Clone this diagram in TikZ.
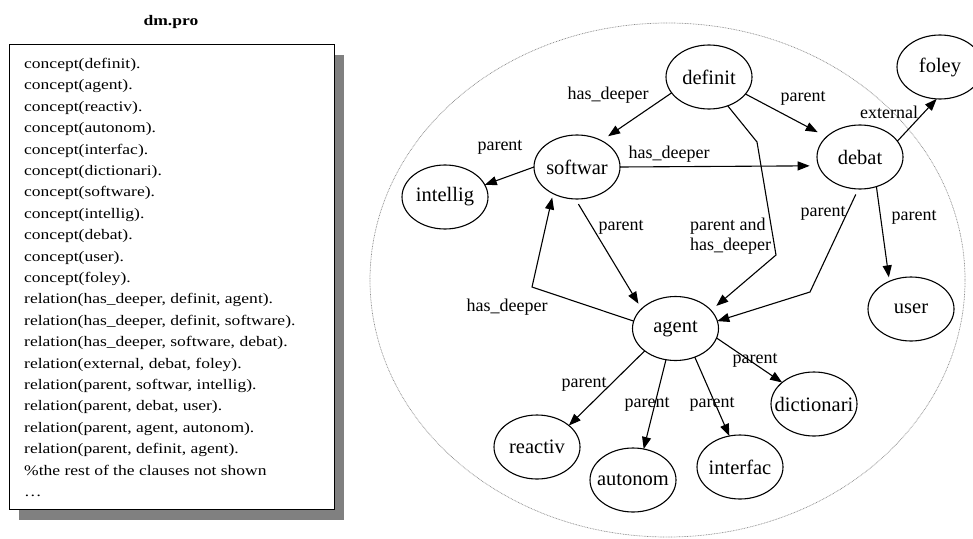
\documentclass[tikz,border=0pt]{standalone}
\usepackage{fontspec}
\setmainfont{Liberation Serif}
\newfontfamily\clausefont[FakeStretch=1.2]{Liberation Serif}
\usetikzlibrary{shapes.geometric,arrows.meta,shadows}

\begin{document}
\begin{tikzpicture}[
x=1pt,y=-1pt,
every node/.style={align=center},
concept/.style={draw,ellipse,line width=1.1pt,minimum width=86pt,minimum height=64pt,inner xsep=-9pt,inner ysep=0pt,outer sep=0pt,font=\fontsize{20.5}{24}\selectfont},
link/.style={-{Triangle[length=12pt,width=9pt]},line width=1.1pt},
rel/.style={inner sep=0pt,anchor=base,font=\fontsize{18}{20}\selectfont},
scopeline/.style={draw=black!45,dash pattern=on 0.8pt off 0.8pt,line width=0.7pt}]

\useasboundingbox (0,0) rectangle (973,538);

% the program file
\node[inner sep=0pt,anchor=base,font=\clausefont\bfseries\fontsize{14.6}{18}\selectfont] (title) at (171,25) {dm.pro};
\node[draw,fill=white,line width=1.1pt,minimum width=325pt,minimum height=465pt,inner sep=0pt,anchor=north west,
  drop shadow={shadow xshift=10pt,shadow yshift=-10pt,fill=black!50,opacity=1}] (file) at (8.5,44) {};
\node[anchor=north west,inner sep=0pt,align=left,font=\clausefont\fontsize{14.6}{21.4}\selectfont] (clauses) at (24,58) {%
concept(definit).\\
concept(agent).\\
concept(reactiv).\\
concept(autonom).\\
concept(interfac).\\
concept(dictionari).\\
concept(software).\\
concept(intellig).\\
concept(debat).\\
concept(user).\\
concept(foley).\\
relation(has\_deeper, definit, agent).\\
relation(has\_deeper, definit, software).\\
relation(has\_deeper, software, debat).\\
relation(external, debat, foley).\\
relation(parent, softwar, intellig).\\
relation(parent, debat, user).\\
relation(parent, agent, autonom).\\
relation(parent, definit, agent).\\
\%the rest of the clauses not shown\\
\ldots};

% the concept graph
\draw[scopeline] (667.5,280) ellipse [x radius=297.5pt,y radius=257pt];

\node[concept] (definit) at (709,77) {definit};
\node[concept] (softwar) at (577,167) {softwar};
\node[concept] (intellig) at (445,197) {intellig};
\node[concept] (debat) at (860,157) {debat};
\node[concept] (foley) at (940,67) {foley};
\node[concept] (user) at (911,309) {user};
\node[concept] (agent) at (675.5,328.5) {agent};
\node[concept] (dictionari) at (814,404) {dictionari};
\node[concept] (interfac) at (740,467) {interfac};
\node[concept] (autonom) at (633,480) {autonom};
\node[concept] (reactiv) at (537,447) {reactiv};

\coordinate (hdbend) at (532,287);
\coordinate (pabend1) at (757,142);
\coordinate (pabend2) at (776,255);
\coordinate (pbend) at (810,292);

\draw[link,shorten >=8pt] (definit.203) -- (softwar.47);
\draw[link,shorten >=10pt] (definit.335) -- (debat.149);
\draw[link,shorten >=9pt] (softwar.east) -- (debat.192);
\draw[link] (softwar.west) -- (intellig.17);
\draw[link,shorten <=6pt,shorten >=6pt] (softwar.267) -- (agent.150);
\draw[link,shorten >=4pt] (agent.170) -- (hdbend) -- (softwar.228);
\draw[link,shorten >=7pt] (definit.303) -- (pabend1) -- (pabend2) -- (agent.27);
\draw[link,shorten <=6pt] (debat.267) -- (pbend) -- (agent.10);
\draw[link,shorten >=4pt] (debat.299) -- (user.128);
\draw[link] (debat.23) -- (foley.264);
\draw[link] (agent.216) -- (reactiv.34);
\draw[link] (agent.253) -- (autonom.71);
\draw[link] (agent.304) -- (interfac.109);
\draw[link] (agent.347) -- (dictionari.146);

\node[rel] (hd-def-soft) at (608,99) {has\_deeper};
\node[rel] (p-soft-int) at (500,150) {parent};
\node[rel] (hd-soft-deb) at (669,158) {has\_deeper};
\node[rel] (p-soft-ag) at (621,230) {parent};
\node[rel] (p-def-deb) at (803,101) {parent};
\node[rel] (ext-deb-fol) at (889,118) {external};
\node[rel] (p-deb-ag) at (823,216) {parent};
\node[rel] (p-deb-user) at (914,220) {parent};
\node[rel,anchor=north west,align=left] (pa-def-ag) at (690,217.7) {parent and\\has\_deeper};
\node[rel] (hd-ag-soft) at (507,311) {has\_deeper};
\node[rel] (p-ag-rea) at (584,387) {parent};
\node[rel] (p-ag-aut) at (647,407) {parent};
\node[rel] (p-ag-int) at (712,407) {parent};
\node[rel] (p-ag-dic) at (755,363) {parent};
\end{tikzpicture}
\end{document}
